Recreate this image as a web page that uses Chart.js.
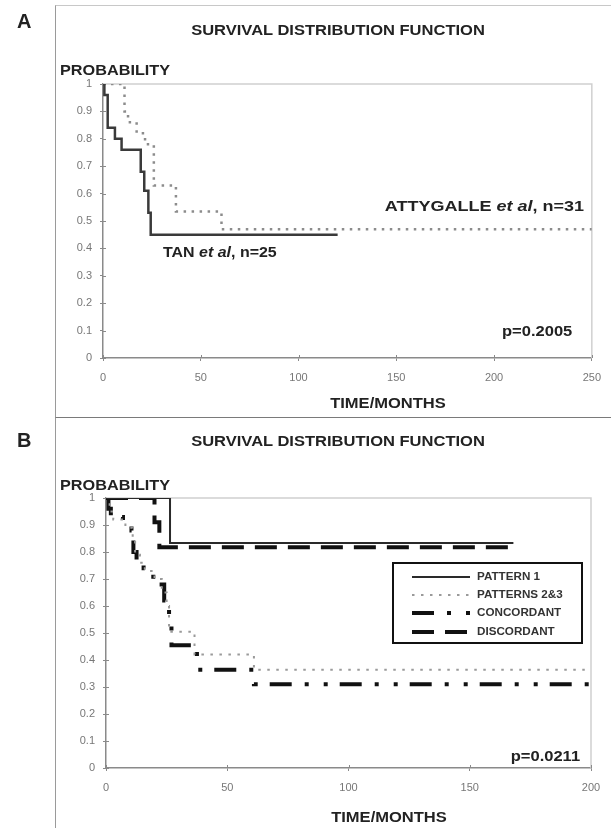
<!DOCTYPE html>
<html><head><meta charset="utf-8">
<script src="https://cdn.jsdelivr.net/npm/chart.js@4.4.0/dist/chart.umd.min.js"></script>
<style>
html,body{margin:0;padding:0;background:#fff;}
body{width:611px;height:828px;position:relative;overflow:hidden;font-family:"Liberation Sans",Arial,sans-serif;}
.panel{position:absolute;border-left:1.5px solid #9a9a9a;border-top:1.5px solid #9a9a9a;}
canvas{position:absolute;left:0;}
.t{position:absolute;font-weight:bold;color:#222;white-space:nowrap;}
.c{width:400px;text-align:center;transform:scaleX(1.18);transform-origin:center center;}
.l{transform:scaleX(1.16);transform-origin:left center;}
</style></head><body>
<div class="panel" style="left:55px;top:5px;width:600px;height:412px;border-top-color:#c8c8c8"></div>
<div class="panel" style="left:55px;top:417px;width:600px;height:420px;border-top-color:#7a7a7a"></div>
<canvas id="cA" width="611" height="417" style="top:0"></canvas>
<canvas id="cB" width="611" height="411" style="top:417px"></canvas>
<div class="t" style="left:17px;top:11px;font-size:20px;line-height:20px">A</div>
<div class="t" style="left:17px;top:430px;font-size:20px;line-height:20px">B</div>
<div class="t c" style="left:138px;top:23px;font-size:14px;line-height:14px">SURVIVAL DISTRIBUTION FUNCTION</div>
<div class="t c" style="left:138px;top:434px;font-size:14px;line-height:14px">SURVIVAL DISTRIBUTION FUNCTION</div>
<div class="t l" style="left:60px;top:63px;font-size:14px;line-height:14px">PROBABILITY</div>
<div class="t l" style="left:60px;top:478px;font-size:14px;line-height:14px">PROBABILITY</div>
<div class="t c" style="left:188px;top:396px;font-size:14px;line-height:14px">TIME/MONTHS</div>
<div class="t c" style="left:189px;top:810px;font-size:14px;line-height:14px">TIME/MONTHS</div>
<script>
// ---------- Panel A data ----------
const xTicksA = [0, 50, 100, 150, 200, 250];
const yTicks = [0, 0.1, 0.2, 0.3, 0.4, 0.5, 0.6, 0.7, 0.8, 0.9, 1];
const yTickLabels = ["0", "0.1", "0.2", "0.3", "0.4", "0.5", "0.6", "0.7", "0.8", "0.9", "1"];
const tanTimes = [0, 0.7, 2.4, 6.1, 9.5, 19.3, 21.1, 23.2, 24.4, 120];
const tanSurv  = [1, 0.96, 0.84, 0.80, 0.76, 0.68, 0.61, 0.53, 0.45, 0.45];
const attyTimes = [0, 11, 12.8, 17.2, 21.5, 26, 37.3, 60.6, 250];
const attySurv  = [1, 0.90, 0.86, 0.82, 0.78, 0.63, 0.535, 0.47, 0.47];
// ---------- Panel B data ----------
const xTicksB = [0, 50, 100, 150, 200];
const p1Times = [0, 26.4, 168];
const p1Surv  = [1, 0.833, 0.833];
const p23Times = [0, 1.5, 3, 8, 11, 12, 14, 16, 20, 23, 25, 26, 36.5, 61, 200];
const p23Surv  = [1, 0.95, 0.92, 0.89, 0.86, 0.79, 0.76, 0.73, 0.70, 0.65, 0.60, 0.505, 0.42, 0.364, 0.364];
const concTimes = [0, 1, 2, 7, 10.5, 11.3, 12.6, 15.5, 19.5, 22, 24, 26, 27, 37.5, 61, 200];
const concSurv  = [1, 0.96, 0.93, 0.90, 0.88, 0.80, 0.77, 0.74, 0.70, 0.68, 0.62, 0.56, 0.455, 0.364, 0.31, 0.31];
const discTimes = [0, 20, 22, 168];
const discSurv  = [1, 0.91, 0.818, 0.818];

const pts = (t, s) => t.map((v, i) => ({x: v, y: s[i]}));

const framePlugin = {
  id: 'frame',
  beforeDatasetsDraw(chart) {
    const {ctx, chartArea: a, scales: {x, y}} = chart;
    ctx.save();
    ctx.strokeStyle = '#d0d0d0'; ctx.lineWidth = 1.5;
    ctx.beginPath(); ctx.moveTo(a.left, a.top); ctx.lineTo(a.right, a.top); ctx.lineTo(a.right, a.bottom); ctx.stroke();
    ctx.strokeStyle = '#8a8a8a'; ctx.lineWidth = 1;
    y.ticks.forEach(t => { const p = Math.round(y.getPixelForValue(t.value)) + 0.5; ctx.beginPath(); ctx.moveTo(a.left, p); ctx.lineTo(a.left + 3, p); ctx.stroke(); });
    x.ticks.forEach(t => { const p = Math.round(x.getPixelForValue(t.value)) + 0.5; ctx.beginPath(); ctx.moveTo(p, a.bottom); ctx.lineTo(p, a.bottom - 3); ctx.stroke(); });
    ctx.restore();
  },
  afterDatasetsDraw(chart, args, opts) {
    const {ctx, scales: {x, y}} = chart;
    (opts.notes || []).forEach(n => {
      ctx.save();
      const fontOf = st => st + ' ' + n.size + 'px "Liberation Sans", Arial, sans-serif';
      let w = 0;
      n.parts.forEach(p => { ctx.font = fontOf(p.s); w += ctx.measureText(p.t).width; });
      let px = x.getPixelForValue(n.x), py = y.getPixelForValue(n.y);
      if (n.align === 'right') px -= w * n.sx;
      ctx.translate(px, py); ctx.scale(n.sx, 1);
      ctx.fillStyle = '#222'; ctx.textBaseline = 'middle'; ctx.textAlign = 'left';
      let cx = 0;
      n.parts.forEach(p => { ctx.font = fontOf(p.s); ctx.fillText(p.t, cx, 0); cx += ctx.measureText(p.t).width; });
      ctx.restore();
    });
  },
  afterDraw(chart, args, opts) {
    const lg = opts.legend;
    if (!lg) return;
    const {ctx, chartArea: a} = chart;
    ctx.save();
    const L = a.right - lg.right - lg.w, T = a.top + lg.top;
    ctx.strokeStyle = '#111'; ctx.lineWidth = 2;
    ctx.strokeRect(L, T, lg.w, lg.h);
    chart.data.datasets.forEach((ds, i) => {
      const yy = T + lg.rows[i];
      ctx.save();
      ctx.strokeStyle = ds.borderColor; ctx.lineWidth = ds.borderWidth;
      ctx.setLineDash(ds.borderDash || []);
      ctx.beginPath(); ctx.moveTo(L + 19, yy); ctx.lineTo(L + 77, yy); ctx.stroke();
      ctx.restore();
      ctx.save();
      ctx.translate(L + 84, yy); ctx.scale(1.06, 1);
      ctx.font = 'bold 11px "Liberation Sans", Arial, sans-serif';
      ctx.fillStyle = '#333'; ctx.textBaseline = 'middle';
      ctx.fillText(ds.label, 0, 0);
      ctx.restore();
    });
    ctx.restore();
  }
};

function axes(xmax, xTicks, yWidth, xHeight) {
  const common = {
    border: {color: '#8a8a8a', width: 1.5},
    grid: {drawOnChartArea: false, drawTicks: true, tickLength: 3, color: '#8a8a8a'},
  };
  return {
    x: Object.assign({}, common, {
      type: 'linear', min: 0, max: xmax,
      afterBuildTicks: s => { s.ticks = xTicks.map(v => ({value: v})); },
      ticks: {padding: 10, color: '#777', font: {size: 11, family: '"Liberation Sans", Arial'}, maxRotation: 0, callback: v => String(v)},
      afterFit: s => { s.height = xHeight; }
    }),
    y: Object.assign({}, common, {
      type: 'linear', min: 0, max: 1,
      afterBuildTicks: s => { s.ticks = yTicks.map(v => ({value: v})); },
      ticks: {padding: 8, color: '#777', font: {size: 11, family: '"Liberation Sans", Arial'}, callback: (v, i) => yTickLabels[i]},
      afterFit: s => { s.width = yWidth; }
    })
  };
}

new Chart(document.getElementById('cA'), {
  type: 'line',
  data: {datasets: [
    {label: 'TAN et al, n=25', data: pts(tanTimes, tanSurv), stepped: true, borderColor: '#3a3a3a', borderWidth: 2.5, pointRadius: 0, fill: false},
    {label: 'ATTYGALLE et al, n=31', data: pts(attyTimes, attySurv), stepped: true, borderColor: '#8c8c8c', borderWidth: 2.5, borderDash: [2.5, 5.5], pointRadius: 0, fill: false}
  ]},
  options: {
    responsive: false, animation: false, devicePixelRatio: 1,
    layout: {padding: {top: 84, right: 19, left: 0, bottom: 0}},
    scales: axes(250, xTicksA, 103, 59),
    plugins: {
      legend: {display: false}, tooltip: {enabled: false}, title: {display: false},
      frame: {notes: [
        {parts: [{t: 'TAN ', s: 'bold'}, {t: 'et al', s: 'italic bold'}, {t: ', n=25', s: 'bold'}], x: 30.7, y: 0.383, align: 'left', size: 14, sx: 1.14},
        {parts: [{t: 'ATTYGALLE ', s: 'bold'}, {t: 'et al', s: 'italic bold'}, {t: ', n=31', s: 'bold'}], x: 246, y: 0.55, align: 'right', size: 15, sx: 1.2},
        {parts: [{t: 'p=0.2005', s: 'bold'}], x: 240, y: 0.095, align: 'right', size: 14, sx: 1.18}
      ]}
    }
  },
  plugins: [framePlugin]
});

new Chart(document.getElementById('cB'), {
  type: 'line',
  data: {datasets: [
    {label: 'PATTERN 1', data: pts(p1Times, p1Surv), stepped: true, borderColor: '#2a2a2a', borderWidth: 2, pointRadius: 0, fill: false},
    {label: 'PATTERNS 2&3', data: pts(p23Times, p23Surv), stepped: true, borderColor: '#9a9a9a', borderWidth: 2, borderDash: [2.5, 6.5], pointRadius: 0, fill: false},
    {label: 'CONCORDANT', data: pts(concTimes, concSurv), stepped: true, borderColor: '#111', borderWidth: 4, borderDash: [22, 13, 4, 15, 4, 12], pointRadius: 0, fill: false},
    {label: 'DISCORDANT', data: pts(discTimes, discSurv), stepped: true, borderColor: '#111', borderWidth: 4, borderDash: [22, 11], pointRadius: 0, fill: false}
  ]},
  options: {
    responsive: false, animation: false, devicePixelRatio: 1,
    layout: {padding: {top: 81, right: 20, left: 0, bottom: 0}},
    scales: axes(200, xTicksB, 106, 60),
    plugins: {
      legend: {display: false}, tooltip: {enabled: false}, title: {display: false},
      frame: {
        notes: [{parts: [{t: 'p=0.0211', s: 'bold'}], x: 195.5, y: 0.04, align: 'right', size: 14, sx: 1.18}],
        legend: {right: 9, w: 189, top: 65, h: 80, rows: [14, 32, 50, 69]}
      }
    }
  },
  plugins: [framePlugin]
});
</script>
</body></html>
